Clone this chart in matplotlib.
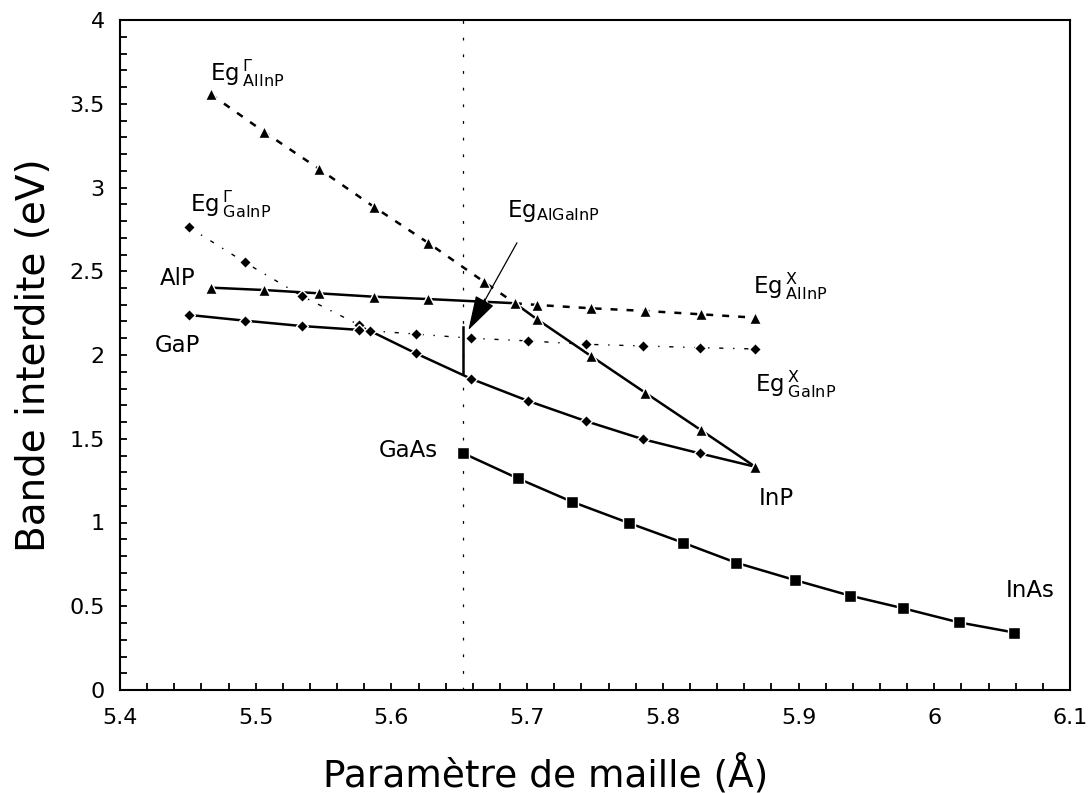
import matplotlib
matplotlib.use("Agg")
import matplotlib.pyplot as plt
from matplotlib.ticker import MultipleLocator, FuncFormatter

plt.rcParams['font.family'] = ['DejaVu Sans']
plt.rcParams['mathtext.fontset'] = 'dejavusans'
plt.rcParams['lines.scale_dashes'] = False

# ---------------- data ----------------
# AlInP (triangles): lattice parameter and band gaps
alinp_a = [5.467, 5.506, 5.547, 5.587, 5.627, 5.668, 5.707, 5.747, 5.787, 5.828, 5.868]
alinp_gamma = [3.556, 3.333, 3.109, 2.885, 2.670, 2.438, 2.215, 1.994, 1.775, 1.552, 1.333]
alinp_x = [2.402, 2.388, 2.368, 2.348, 2.334, 2.318, 2.299, 2.279, 2.263, 2.243, 2.223]
alinp_cross = (5.691, 2.309)

# GaInP (diamonds)
gainp_a = [5.451, 5.492, 5.534, 5.576, 5.618, 5.659, 5.701, 5.743, 5.785, 5.827, 5.868]
gainp_gamma = [2.762, 2.553, 2.352, 2.180, 2.010, 1.857, 1.725, 1.606, 1.498, 1.413, 1.335]
gainp_x = [2.239, 2.205, 2.173, 2.150, 2.125, 2.100, 2.084, 2.064, 2.054, 2.044, 2.036]
gainp_cross = (5.584, 2.145)

# GaInAs (squares) GaAs -> InAs
gainas_a = [5.653, 5.693, 5.733, 5.775, 5.815, 5.854, 5.897, 5.938, 5.977, 6.018, 6.059]
gainas_eg = [1.413, 1.264, 1.124, 0.997, 0.879, 0.760, 0.657, 0.563, 0.488, 0.404, 0.343]

gaas_a = 5.653
algainp_range = [1.89, 2.17]
arrow_tail = (5.6925, 2.670)
arrow_tip = (5.6567, 2.149)

xticks = [5.4, 5.5, 5.6, 5.7, 5.8, 5.9, 6.0, 6.1]
yticks = [0, 0.5, 1, 1.5, 2, 2.5, 3, 3.5, 4]

# ---------------- figure ----------------
fig = plt.figure(figsize=(10.9, 7.93), dpi=100)
ax = fig.add_axes([120/1090, 1-690/793, 950/1090, 670/793])

SOLID_LW = 1.8
dash_big = (0, (5, 6.5))
dash_thin = (0, (3, 7, 1, 7))

# AlInP -------------------------------------------------------
n_al = 6  # points before crossover
sx = alinp_a[:n_al] + [alinp_cross[0]] + alinp_a[n_al:]
sy = alinp_x[:n_al] + [alinp_cross[1]] + alinp_gamma[n_al:]
ax.plot(sx, sy, color='black', lw=SOLID_LW, zorder=2)
ax.plot(alinp_a[:n_al] + [alinp_cross[0]], alinp_gamma[:n_al] + [alinp_cross[1]],
        color='black', lw=SOLID_LW, linestyle=dash_big, zorder=2)
ax.plot([alinp_cross[0]] + alinp_a[n_al:], [alinp_cross[1]] + alinp_x[n_al:],
        color='black', lw=SOLID_LW, linestyle=dash_big, zorder=2)
mk = dict(color='black', linestyle='none', mec='white', mew=1.0, zorder=3)
ax.plot(alinp_a, alinp_gamma, marker='^', ms=9, **mk)
ax.plot(alinp_a, alinp_x, marker='^', ms=9, **mk)
ax.plot([alinp_cross[0]], [alinp_cross[1]], marker='^', ms=9, **mk)

# GaInP -------------------------------------------------------
n_ga = 4
sx = gainp_a[:n_ga] + [gainp_cross[0]] + gainp_a[n_ga:-1] + [alinp_a[-1]]
sy = gainp_x[:n_ga] + [gainp_cross[1]] + gainp_gamma[n_ga:-1] + [alinp_gamma[-1]]
ax.plot(sx, sy, color='black', lw=SOLID_LW, zorder=2)
ax.plot(gainp_a[:n_ga] + [gainp_cross[0]], gainp_gamma[:n_ga] + [gainp_cross[1]],
        color='black', lw=1.0, linestyle=dash_thin, zorder=2)
ax.plot([gainp_cross[0]] + gainp_a[n_ga:], [gainp_cross[1]] + gainp_x[n_ga:],
        color='black', lw=1.0, linestyle=dash_thin, zorder=2)
ax.plot(gainp_a[:-1], gainp_gamma[:-1], marker='D', ms=6.5, **mk)
ax.plot(gainp_a, gainp_x, marker='D', ms=6.5, **mk)
ax.plot([gainp_cross[0]], [gainp_cross[1]], marker='D', ms=6.5, **mk)

# GaInAs ------------------------------------------------------
ax.plot(gainas_a, gainas_eg, color='black', lw=SOLID_LW, zorder=2)
ax.plot(gainas_a, gainas_eg, marker='s', ms=8.5, **mk)

# lattice matched to GaAs -------------------------------------
ax.axvline(gaas_a, color='black', lw=0.9, linestyle=(0, (2, 10)), zorder=1)
ax.plot([gaas_a, gaas_a], algainp_range, color='black', lw=SOLID_LW, zorder=2)

ax.annotate('', xy=arrow_tip, xytext=arrow_tail,
            arrowprops=dict(arrowstyle='-|>,head_length=1.1,head_width=0.33',
                            mutation_scale=20, color='black', lw=0.9,
                            shrinkA=0, shrinkB=0), zorder=4)

# labels --------------------------------------------------------
FS = 16.5
ax.text(5.4663, 3.642, r'Eg$\,^{\Gamma}_{\mathrm{AlInP}}$', fontsize=FS)
ax.text(5.4516, 2.856, r'Eg$\,^{\Gamma}_{\mathrm{GaInP}}$', fontsize=FS)
ax.text(5.4295, 2.418, 'AlP', fontsize=FS)
ax.text(5.4258, 2.020, 'GaP', fontsize=FS)
ax.text(5.685, 2.826, r'Eg$_{\mathrm{AlGaInP}}$', fontsize=FS)
ax.text(5.8663, 2.368, r'Eg$\,^{\mathrm{X}}_{\mathrm{AlInP}}$', fontsize=FS)
ax.text(5.8679, 1.781, r'Eg$\,^{\mathrm{X}}_{\mathrm{GaInP}}$', fontsize=FS)
ax.text(5.8703, 1.104, 'InP', fontsize=FS)
ax.text(5.6340, 1.393, 'GaAs', fontsize=FS, ha='right')
ax.text(6.053, 0.557, 'InAs', fontsize=FS)

# axes ---------------------------------------------------------
ax.set_xlim(5.4, 6.1)
ax.set_ylim(0, 4)
ax.set_xticks(xticks)
ax.set_yticks(yticks)
ax.xaxis.set_minor_locator(MultipleLocator(0.02))
ax.yaxis.set_minor_locator(MultipleLocator(0.1))
ax.xaxis.set_major_formatter(FuncFormatter(lambda v, p: f'{v:g}'))
ax.yaxis.set_major_formatter(FuncFormatter(lambda v, p: f'{v:g}'))
ax.tick_params(which='both', direction='in', length=5, width=1.3, labelsize=16,
               top=False, right=False)
ax.tick_params(axis='x', pad=13)
ax.tick_params(axis='y', pad=11)
for s in ax.spines.values():
    s.set_linewidth(1.5)

ax.set_xlabel('Paramètre de maille (Å)', fontsize=27, labelpad=12)
ax.xaxis.set_label_coords((546 - 120) / 950, -0.095)
ax.set_ylabel('Bande interdite (eV)', fontsize=28, labelpad=12)

fig.savefig('out.png', dpi=100)
